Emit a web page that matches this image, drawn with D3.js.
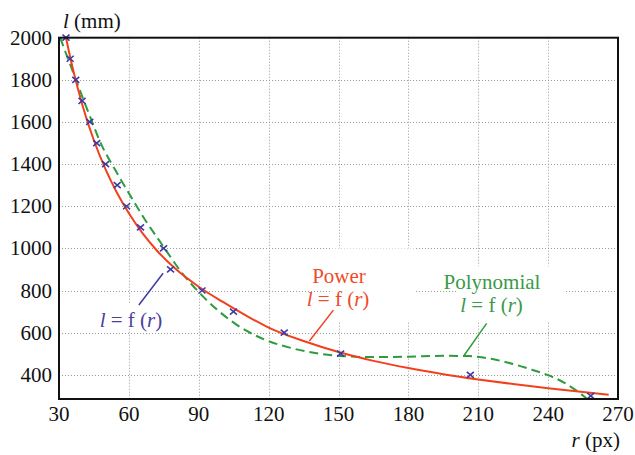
<!DOCTYPE html>
<html>
<head>
<meta charset="utf-8">
<script src="https://cdn.jsdelivr.net/npm/d3@7/dist/d3.min.js"></script>
<style>
  html, body { margin: 0; padding: 0; background: #ffffff; }
  svg { display: block; }
</style>
</head>
<body>
<svg id="chart" width="635" height="455"></svg>
<script>
// Measured calibration points: radius r (px) against length l (mm)
const measuredR = [33, 34.8, 37.2, 39.9, 43.2, 46.2, 50.0, 55.0, 59.0, 65.0, 74.9, 77.9, 91.4, 104.9, 126.7, 150.9, 206.6, 258.3];
const measuredL = [2000, 1900, 1800, 1700, 1600, 1500, 1400, 1300, 1200, 1100, 1000, 900, 800, 700, 600, 500, 400, 300];

// Power-law fit l = f(r)
const powerR = [33, 36, 40, 45, 50, 55, 60, 66, 72, 80, 90, 100, 110, 120, 135, 150, 165, 180, 195, 210, 225, 240, 255, 266];
const powerL = [2000, 1850, 1682, 1512, 1375, 1262, 1167, 1070, 990, 903, 818, 748, 683, 624, 560, 508, 466, 432, 403, 378, 356, 336, 318, 305];

// Polynomial fit l = f(r)
const polyR = [30.5, 33, 36, 40, 44, 48, 54, 60, 67, 74, 82, 92, 104, 118, 129, 140, 151, 165, 180, 195, 206, 212, 218, 226, 233, 240, 247, 252, 256, 259];
const polyL = [2000, 1925, 1838, 1720, 1607, 1497, 1375, 1262, 1135, 1022, 895, 770, 655, 568, 529, 503, 489, 484, 486, 490, 489, 482, 470, 448, 424, 398, 362, 326, 292, 262];

// Axis ticks
const xTicks = [30, 60, 90, 120, 150, 180, 210, 240, 270];
const yTicks = [400, 600, 800, 1000, 1200, 1400, 1600, 1800, 2000];

// Pick the first installed Times-like serif face
function pickSerif(candidates) {
  const ctx = document.createElement("canvas").getContext("2d");
  const probe = "mmmmmmmmwwwlli 0123456789";
  ctx.font = "72px monospace";
  const base = ctx.measureText(probe).width;
  for (const f of candidates) {
    ctx.font = `72px "${f}", monospace`;
    if (Math.abs(ctx.measureText(probe).width - base) > 0.5) return `"${f}", serif`;
  }
  return "serif";
}
const FONT = pickSerif(["Liberation Serif", "Times New Roman", "Tinos", "Nimbus Roman", "Times", "DejaVu Serif", "Noto Serif"]);
const svg = d3.select("#chart").attr("font-family", FONT);

const plotLeft = 59, plotRight = 618, plotTop = 37.7, plotBottom = 399;
const x = d3.scaleLinear().domain([30, 270]).range([plotLeft, plotRight]);
const y = d3.scaleLinear().domain([285, 2000]).range([plotBottom, plotTop]);

const red = "#f2401f", redText = "#ef4a2a";
const green = "#2f9a3e", greenText = "#3a9a48";
const blue = "#3d3aa2", blueText = "#4c3ea0";

// Dotted grid
const grid = svg.append("g");
grid.selectAll("line.v").data(xTicks.filter(t => t > 30 && t < 270)).join("line")
  .attr("class", "v")
  .attr("x1", d => Math.round(x(d)) + 0.5).attr("x2", d => Math.round(x(d)) + 0.5)
  .attr("y1", plotTop).attr("y2", plotBottom)
  .attr("stroke", "#9a9a9a").attr("stroke-width", 1).attr("stroke-dasharray", "1,2");
grid.selectAll("line.h").data(yTicks.filter(t => t < 2000)).join("line")
  .attr("class", "h")
  .attr("y1", d => Math.round(y(d)) + 0.5).attr("y2", d => Math.round(y(d)) + 0.5)
  .attr("x1", plotLeft).attr("x2", plotRight)
  .attr("stroke", "#9a9a9a").attr("stroke-width", 1).attr("stroke-dasharray", "1,2");

// White boxes behind the curve labels
const boxes = [
  { r0: 146.5, r1: 183, l0: 1000, l1: 652 },   // Power
  { r0: 200.5, r1: 247, l0: 915, l1: 650 },    // Polynomial
  { r0: 46.5, r1: 77, l0: 740, l1: 620 }       // measured
];
svg.append("g").selectAll("rect").data(boxes).join("rect")
  .attr("x", d => x(d.r0)).attr("width", d => x(d.r1) - x(d.r0))
  .attr("y", d => y(d.l0)).attr("height", d => y(d.l1) - y(d.l0))
  .attr("fill", "#ffffff");

svg.append("defs").append("clipPath").attr("id", "plot")
  .append("rect").attr("x", plotLeft).attr("y", plotTop - 2)
  .attr("width", plotRight - plotLeft).attr("height", plotBottom - plotTop + 2);

const line = d3.line().curve(d3.curveMonotoneX).x(d => x(d[0])).y(d => y(d[1]));
const plot = svg.append("g").attr("clip-path", "url(#plot)");

plot.append("path").datum(polyR.map((r, i) => [r, polyL[i]]))
  .attr("d", line).attr("fill", "none")
  .attr("stroke", green).attr("stroke-width", 2).attr("stroke-dasharray", "9,5");

plot.append("path").datum(powerR.map((r, i) => [r, powerL[i]]))
  .attr("d", line).attr("fill", "none")
  .attr("stroke", red).attr("stroke-width", 2);

// Measured points as small crosses
const crossPts = measuredR.map((r, i) => [x(r), y(measuredL[i])]);
svg.append("g").selectAll("path").data(crossPts).join("path")
  .attr("d", d => `M${d[0]-3.5},${d[1]-3}L${d[0]+3.5},${d[1]+3}M${d[0]-3.5},${d[1]+3}L${d[0]+3.5},${d[1]-3}`)
  .attr("stroke", blue).attr("stroke-width", 1.6).attr("fill", "none");

// Frame
svg.append("rect").attr("x", plotLeft).attr("y", plotTop)
  .attr("width", plotRight - plotLeft).attr("height", plotBottom - plotTop)
  .attr("fill", "none").attr("stroke", "#111").attr("stroke-width", 2);

// Tick labels
svg.append("g").selectAll("text").data(xTicks).join("text")
  .attr("x", d => x(d)).attr("y", 421).attr("text-anchor", "middle")
  .attr("font-size", 21).attr("fill", "#111").text(d => d);
svg.append("g").selectAll("text").data(yTicks).join("text")
  .attr("x", 52).attr("y", d => y(d) + 7).attr("text-anchor", "end")
  .attr("font-size", 21).attr("fill", "#111").text(d => d);

// Axis titles
const yTitle = svg.append("text").attr("x", 63).attr("y", 28).attr("font-size", 21).attr("fill", "#111");
yTitle.append("tspan").attr("font-style", "italic").text("l");
yTitle.append("tspan").text(" (mm)");
const xTitle = svg.append("text").attr("x", 620).attr("y", 447).attr("font-size", 21)
  .attr("fill", "#111").attr("text-anchor", "end");
xTitle.append("tspan").attr("font-style", "italic").text("r");
xTitle.append("tspan").text(" (px)");

// Formula label "l = f (r)"
function formula(px, py, color) {
  const t = svg.append("text").attr("x", px).attr("y", py).attr("font-size", 21)
    .attr("fill", color).attr("text-anchor", "middle");
  t.append("tspan").attr("font-style", "italic").text("l");
  t.append("tspan").text(" = f (");
  t.append("tspan").attr("font-style", "italic").text("r");
  t.append("tspan").text(")");
}
function leader(r0, l0, r1, l1, color) {
  svg.append("line").attr("x1", x(r0)).attr("y1", y(l0)).attr("x2", x(r1)).attr("y2", y(l1))
    .attr("stroke", color).attr("stroke-width", 1.5);
}

// Power label
svg.append("text").attr("x", x(150.2)).attr("y", 283).attr("font-size", 21)
  .attr("fill", redText).attr("text-anchor", "middle").text("Power");
formula(x(149.8), 306, redText);
leader(147.8, 707, 137.5, 560, red);

// Polynomial label
svg.append("text").attr("x", x(215.9)).attr("y", 289).attr("font-size", 21)
  .attr("fill", greenText).attr("text-anchor", "middle").text("Polynomial");
formula(x(215.7), 312, greenText);
leader(213.6, 644, 203.6, 487, green);

// Measured-data label
formula(x(60.9), 327, blueText);
leader(64.3, 731, 74.7, 882, blue);
</script>
</body>
</html>
